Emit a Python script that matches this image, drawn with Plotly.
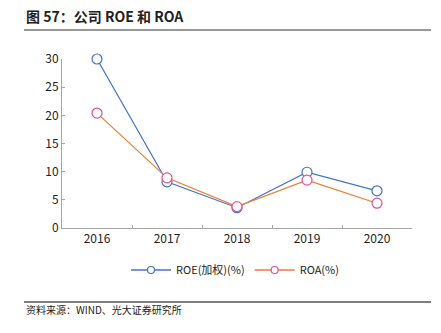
import plotly.graph_objects as go

years = ["2016", "2017", "2018", "2019", "2020"]
roe = [30.0, 8.2, 3.6, 9.9, 6.6]
roa = [20.4, 8.9, 3.8, 8.5, 4.4]
y_ticks = [0, 5, 10, 15, 20, 25, 30]

W, H = 441, 333
L, R, T, B = 62, 29, 59, 105
pw, ph = W - L - R, H - T - B

def px(x):
    return (x - L) / pw

def py(y):
    return (H - B - y) / ph

font = "Noto Sans CJK SC"
series = [
    ("ROE(加权)(%)", roe, "#4472C4", "#4472C4"),
    ("ROA(%)", roa, "#ED7D31", "#E0509A"),
]
fig = go.Figure()
for name, vals, lc, mc in series:
    fig.add_trace(go.Scatter(
        x=years, y=vals, name=name, mode="lines+markers", showlegend=False,
        line=dict(color=lc, width=1.2),
        marker=dict(symbol="circle", size=10, color="white",
                    line=dict(color=mc, width=1.2)),
        cliponaxis=False,
    ))
for name, vals, lc, mc in series:
    fig.add_trace(go.Scatter(
        x=[None], y=[None], name=name, mode="lines+markers",
        line=dict(color=lc, width=1.5),
        marker=dict(symbol="circle", size=7, color="white",
                    line=dict(color=mc, width=1.2)),
    ))

fig.update_layout(
    width=W, height=H,
    margin=dict(l=L, r=R, t=T, b=B),
    paper_bgcolor="white", plot_bgcolor="white",
    font=dict(family=font, size=12, color="#222"),
    showlegend=True,
    legend=dict(orientation="h", x=px(235), xanchor="center",
                y=py(270), yanchor="middle", font=dict(size=11),
                itemwidth=40, tracegroupgap=0),
    xaxis=dict(type="category", showgrid=False, showline=True,
               linecolor="#A6A6A6", linewidth=1, ticks="inside",
               tickson="boundaries", ticklen=3, tickcolor="#A6A6A6",
               tickfont=dict(size=12), range=[-0.5, 4.5]),
    yaxis=dict(range=[0, 30], tickvals=y_ticks, showgrid=False,
               showline=True, linecolor="#A6A6A6", linewidth=1,
               ticks="inside", ticklen=3, tickcolor="#A6A6A6",
               zeroline=False, tickfont=dict(size=12)),
    annotations=[
        dict(text="<b>图 57：公司 ROE 和 ROA</b>", xref="paper", yref="paper",
             x=px(24), y=py(16), xanchor="left", yanchor="middle",
             showarrow=False, font=dict(size=14, color="#222")),
        dict(text="资料来源：WIND、光大证券研究所", xref="paper", yref="paper",
             x=px(24), y=py(309), xanchor="left", yanchor="middle",
             showarrow=False, font=dict(size=10, color="#222")),
    ],
    shapes=[
        dict(type="line", xref="paper", yref="paper", x0=px(24), x1=px(431),
             y0=py(30), y1=py(30), line=dict(color="#333", width=1.2)),
        dict(type="line", xref="paper", yref="paper", x0=px(24), x1=px(431),
             y0=py(302), y1=py(302), line=dict(color="#555", width=1.5)),
    ],
)

fig.write_html("out.html")
